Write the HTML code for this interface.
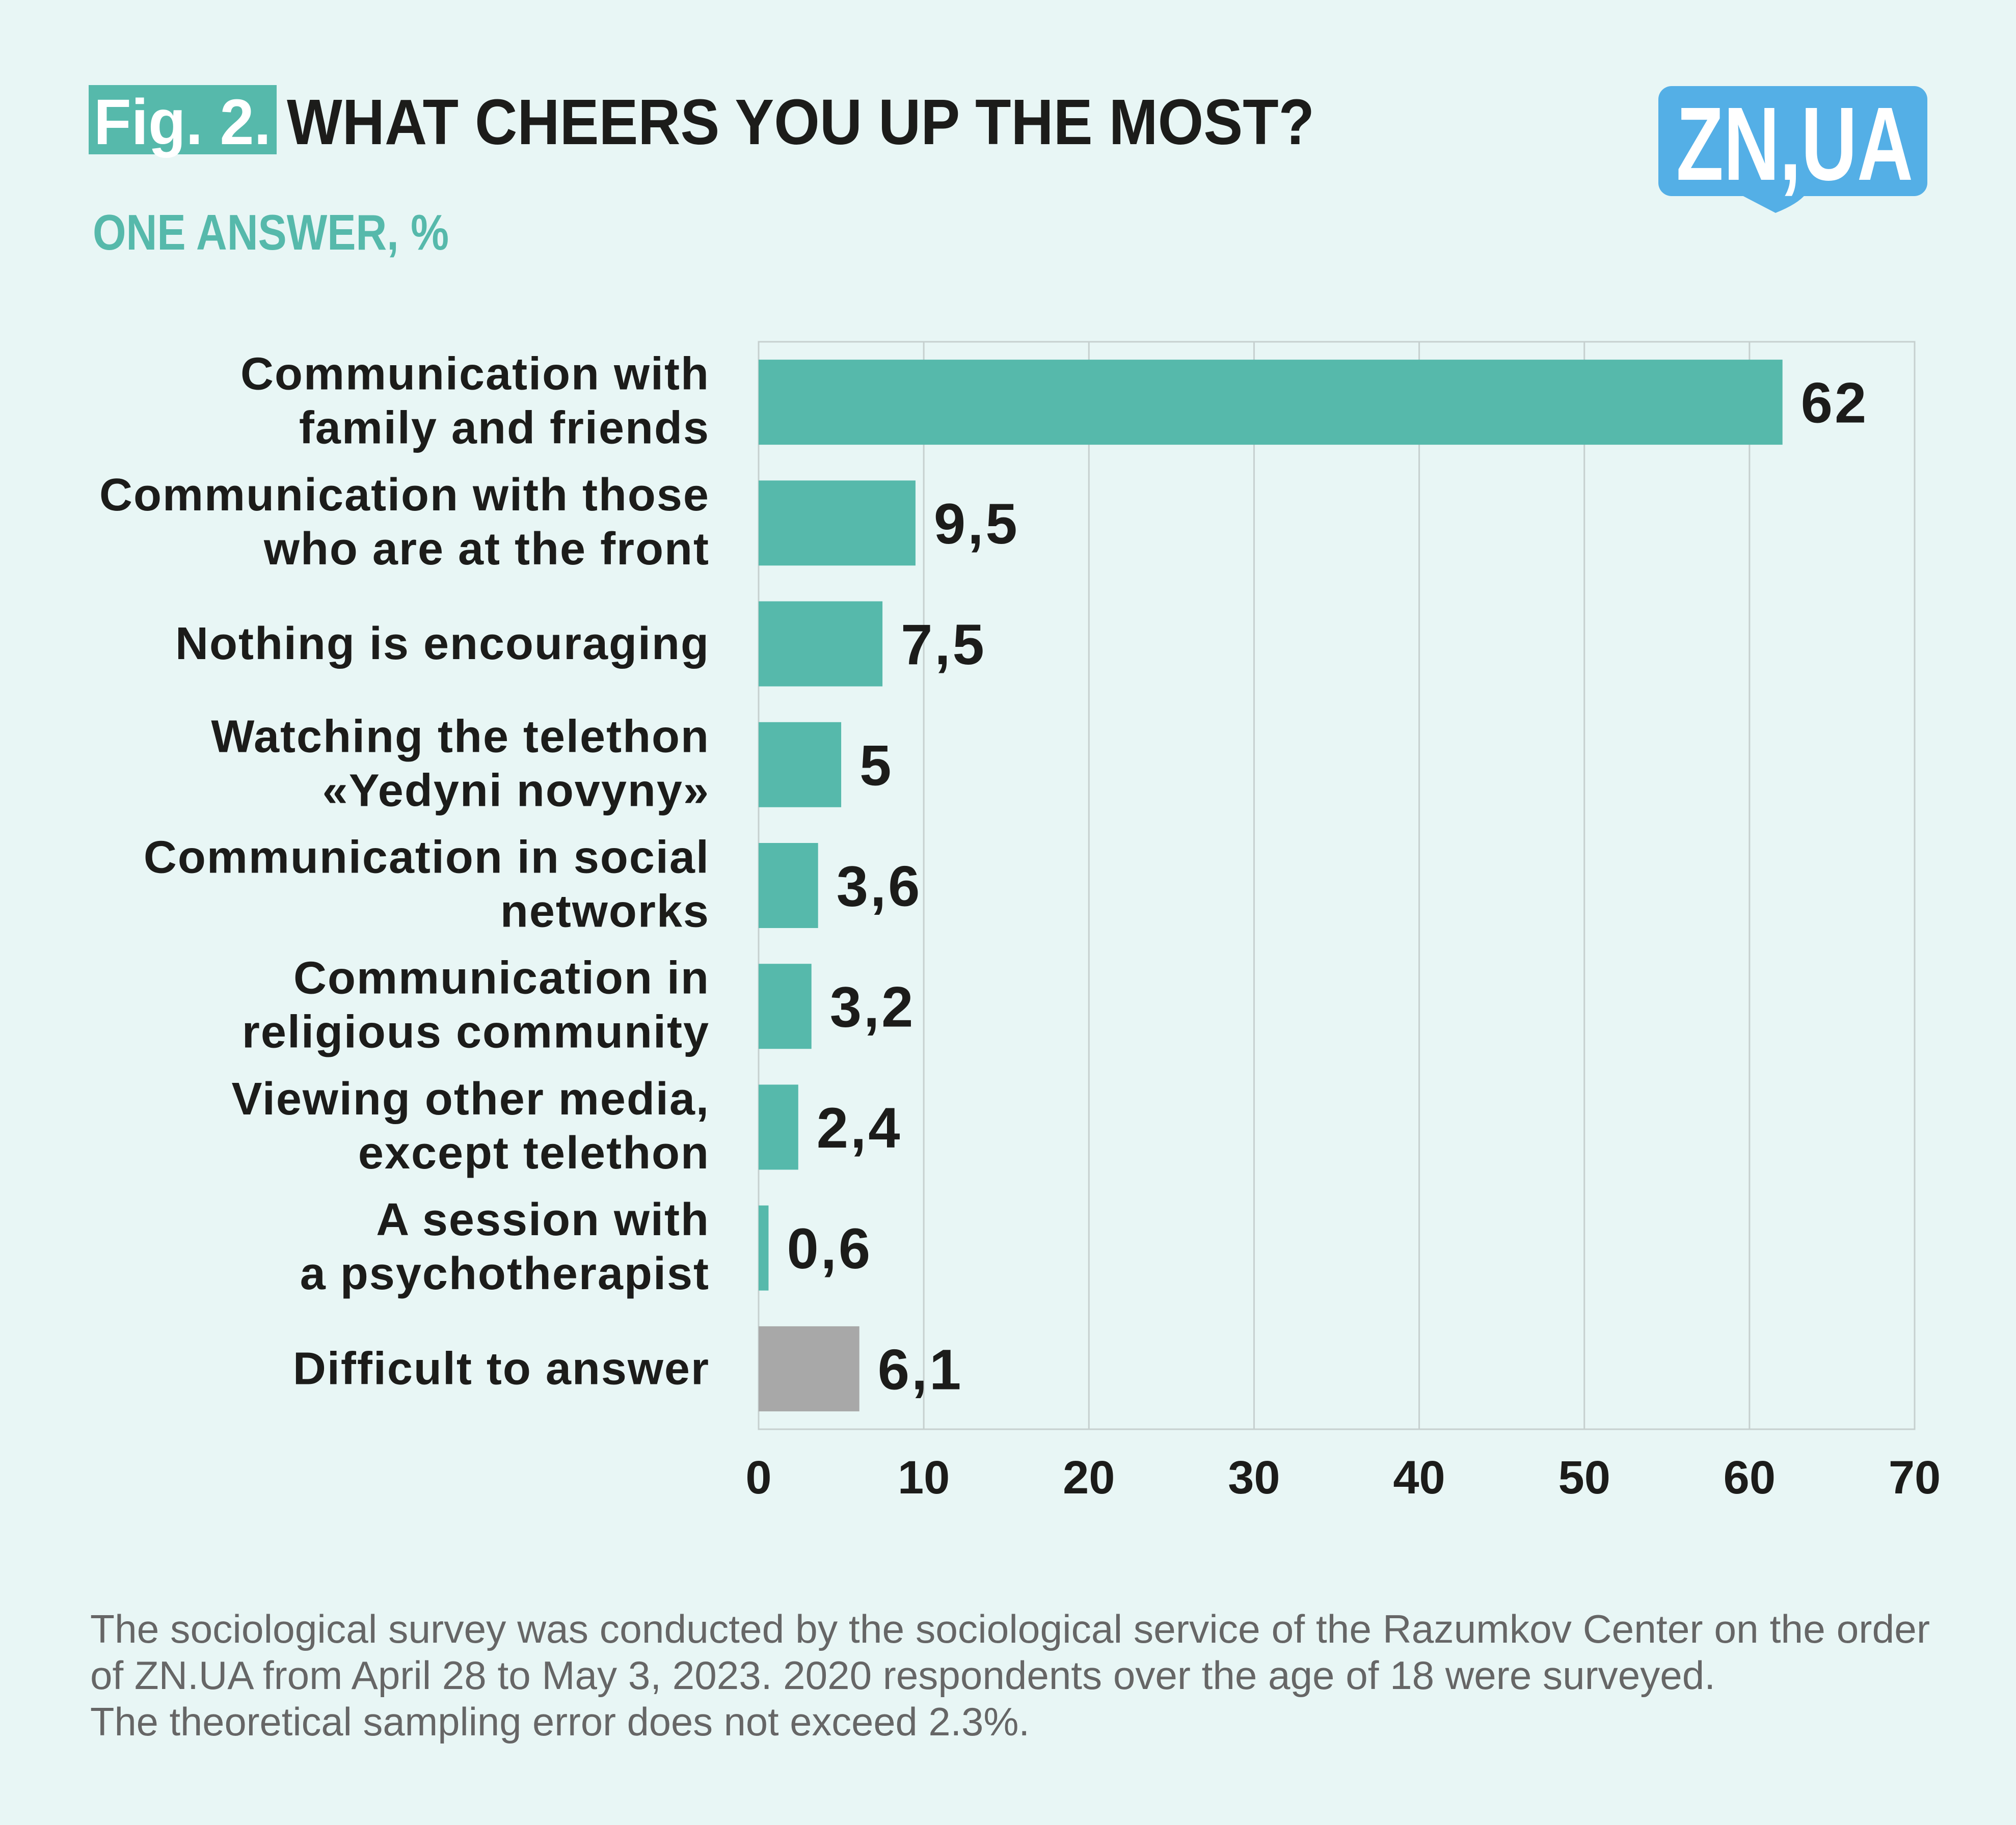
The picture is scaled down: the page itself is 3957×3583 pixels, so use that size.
<!DOCTYPE html>
<html><head><meta charset="utf-8"><style>
html,body{margin:0;padding:0;background:#e8f6f5;}
svg{display:block;font-family:"Liberation Sans",sans-serif;}
</style></head><body>
<svg id="chart" width="3957" height="3583" viewBox="0 0 3957 3583" xmlns="http://www.w3.org/2000/svg">
<rect x="0" y="0" width="3957" height="3583" fill="#e8f6f5"/>
<rect x="174" y="167" width="369" height="136" fill="#56b9ab"/>
<text x="184" y="283" fill="#fff" font-weight="bold" font-size="126" textLength="348" lengthAdjust="spacingAndGlyphs">Fig. 2.</text>
<text x="563" y="283" fill="#1c1c1a" font-weight="bold" font-size="126" textLength="2017" lengthAdjust="spacingAndGlyphs">WHAT CHEERS YOU UP THE MOST?</text>
<text x="182" y="490" fill="#56b9ab" font-weight="bold" font-size="98" textLength="699" lengthAdjust="spacingAndGlyphs">ONE ANSWER, %</text>
<g>
<rect x="3255" y="169" width="528" height="216" rx="26" fill="#54afe6"/>
<path d="M3412 380 L3485 418 Q3530 400 3545 380 Z" fill="#54afe6"/>
<text x="3290" y="353" fill="#fff" font-weight="bold" font-size="205" textLength="465" lengthAdjust="spacingAndGlyphs">ZN,UA</text>
</g>
<g id="plot"></g>
<g fill="#666" font-size="78">
<text x="177" y="3225" textLength="3611" lengthAdjust="spacingAndGlyphs">The sociological survey was conducted by the sociological service of the Razumkov Center on the order</text>
<text x="177" y="3316" textLength="3190" lengthAdjust="spacingAndGlyphs">of ZN.UA from April 28 to May 3, 2023. 2020 respondents over the age of 18 were surveyed.</text>
<text x="177" y="3407" textLength="1844" lengthAdjust="spacingAndGlyphs">The theoretical sampling error does not exceed 2.3%.</text>
</g>
</svg>
<script>
const categories = [["Communication with","family and friends"],["Communication with those","who are at the front"],["Nothing is encouraging"],["Watching the telethon","«Yedyni novyny»"],["Communication in social","networks"],["Communication in","religious community"],["Viewing other media,","except telethon"],["A session with","a psychotherapist"],["Difficult to answer"]];
const values = [62, 9.5, 7.5, 5, 3.6, 3.2, 2.4, 0.6, 6.1];
const valueLabels = ["62","9,5","7,5","5","3,6","3,2","2,4","0,6","6,1"];
const ticks = [0,10,20,30,40,50,60,70];
const NS = "http://www.w3.org/2000/svg";
const L=1489, R=3758, T=671, B=2806, MAX=70;
const xs = v => L + (v/MAX)*(R-L);
const band = (B-T)/values.length;
const yc = i => T + band*(i+0.5);
const g = document.getElementById('plot');
function mk(tag, attrs, txt){const e=document.createElementNS(NS,tag);for(const k in attrs)e.setAttribute(k,attrs[k]);if(txt!==undefined)e.textContent=txt;g.appendChild(e);return e;}
ticks.forEach(t=>{
  const l=mk('line',{x1:xs(t),x2:xs(t),y1:T,y2:B,stroke:'#c6d0cf','stroke-width':3});
  
  
  const tx=mk('text',{x:xs(t),y:2932,'text-anchor':'middle','font-size':92,'font-weight':'bold',fill:'#1c1c1a'},String(t));
  
  
});
const fr=mk('rect',{x:L,y:T,width:R-L,height:B-T,fill:'none',stroke:'#c6d0cf','stroke-width':3});


const bh=167;
values.forEach((v,i)=>{
  const c=yc(i);
  const r=mk('rect',{x:L,y:c-bh/2,width:xs(v)-L,height:bh,fill:i===values.length-1?'#a8a8a8':'#56b9ab'});
  
  
  const vl=mk('text',{x:xs(v)+36,y:c+40,'font-size':112,'font-weight':'bold','letter-spacing':4,fill:'#1c1c1a'},valueLabels[i]);
  
  
  const lines=categories[i];
  lines.forEach((s,j)=>{
    const y = lines.length===1 ? c+30 : c-25+106*j;
    const t=mk('text',{x:1393,y:y,'text-anchor':'end','font-size':90,'font-weight':'bold','letter-spacing':2,fill:'#1c1c1a'},s);
    
    
  });
});
</script>
</body></html>
